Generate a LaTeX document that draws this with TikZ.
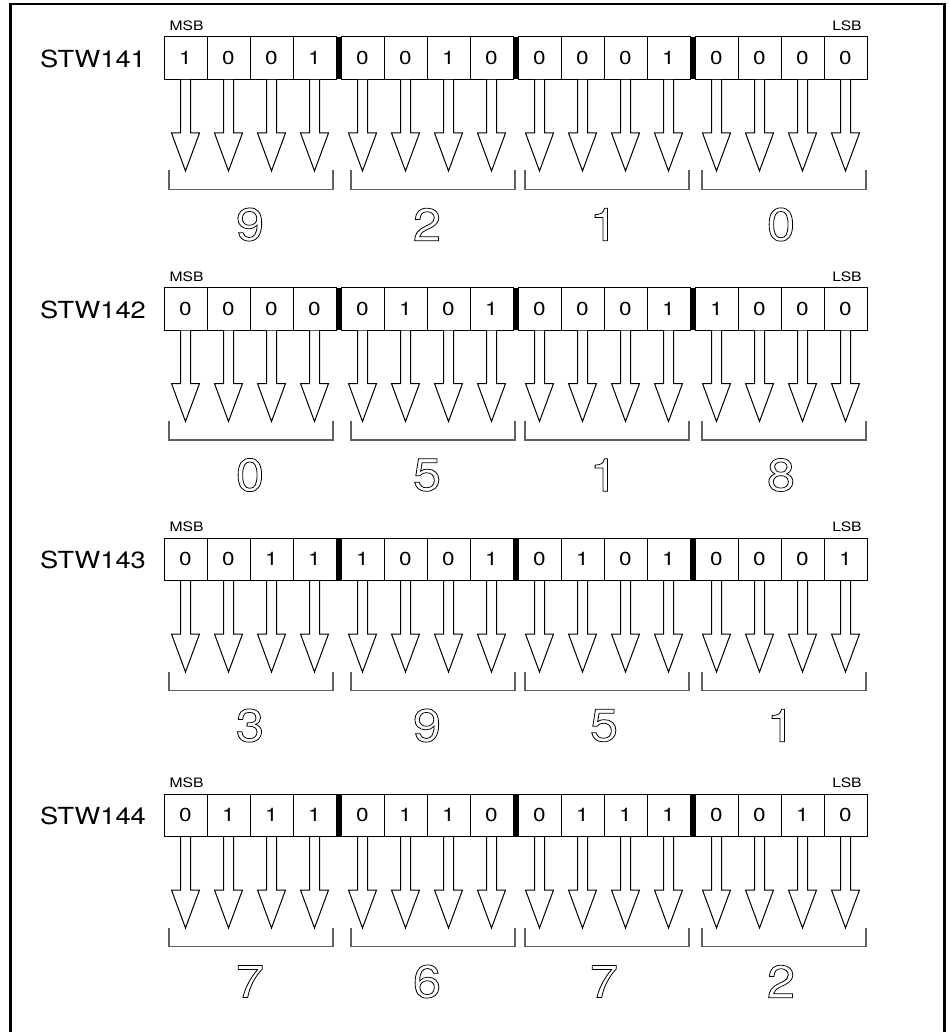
\documentclass[tikz,border=0pt]{standalone}
\usepackage{fontspec}
\setmainfont{TeX Gyre Heros}
\usepackage{graphicx}
\usetikzlibrary{calc}
\newcommand\hx[2]{\scalebox{#1}[1]{#2}}
\newcommand\outlinetext[1]{\special{pdf:literal 1 Tr 0.75 w}#1\special{pdf:literal 0 Tr 0.4 w}}
\tikzset{
  bitbox/.style={draw, line width=1pt, minimum width=43pt, minimum height=42.5pt, inner sep=0pt, font=\fontsize{18.8}{20}\selectfont},
  regname/.style={font=\fontsize{23.5}{25}\selectfont, inner sep=0pt},
  endlabel/.style={font=\fontsize{13}{14}\selectfont, inner sep=0pt},
  hollowarrow/.style={draw, fill=white, line width=1pt, line join=miter},
  groupbracket/.style={draw=black!62, line width=1.5pt},
  bigdigit/.style={font=\fontsize{46}{48}\selectfont, inner sep=0pt},
  separator/.style={fill=black},
  frameline/.style={line width=2.5pt}
}
\begin{document}
\begin{tikzpicture}[x=1pt,y=-1pt]
\useasboundingbox (0,0) rectangle (948,1032);
\draw[frameline] (10.3,1034) -- (10.3,4) -- (944.5,4) -- (944.5,1034);
\foreach \r/\tp/\name/\bits/\digs in {
  1/37/STW141/{1,0,0,1,0,0,1,0,0,0,0,1,0,0,0,0}/{9,2,1,0},
  2/287.5/STW142/{0,0,0,0,0,1,0,1,0,0,0,1,1,0,0,0}/{0,5,1,8},
  3/538/STW143/{0,0,1,1,1,0,0,1,0,1,0,1,0,0,0,1}/{3,9,5,1},
  4/794/STW144/{0,1,1,1,0,1,1,0,0,1,1,1,0,0,1,0}/{7,6,7,2}} {
  \node[regname] (lab\r) at (93,\tp+22) {\hx{1.16}{\name}};
  \node[endlabel] (msb\r) at (186.5,\tp-11) {\hx{1.2}{MSB}};
  \node[endlabel] (lsb\r) at (847,\tp-11) {\hx{1.2}{LSB}};
  \foreach \b [count=\k from 0] in \bits {
    \pgfmathtruncatemacro\g{int(\k/4)}
    \pgfmathsetmacro\cx{164+177*\g+43*(\k-4*\g)+21.5}
    \node[bitbox] (b\r-\k) at (\cx,\tp+21.25) {\hx{1.2}{\b}};
    \draw[hollowarrow] ($(b\r-\k.south)+(-5,0)$) -- ++(0,53) -- ++(-9,0) -- ++(14,38) -- ++(14,-38) -- ++(-9,0) -- ++(0,-53);
  }
  \foreach \gg in {1,2,3} {
    \fill[separator] (164+177*\gg-5,\tp) rectangle (164+177*\gg,\tp+42.5);
  }
  \foreach \dd [count=\gg from 0] in \digs {
    \pgfmathsetmacro\gc{164+177*\gg+86}
    \node[bigdigit] (d\r-\gg) at (\gc,\tp+42.5+145) {\hx{1.1}{\outlinetext{\dd}}};
  }
  \foreach \bl in {169,351,525,702} {
    \draw[groupbracket] (\bl,\tp+42.5+91) -- (\bl,\tp+42.5+110) -- (\bl+164,\tp+42.5+110) -- (\bl+164,\tp+42.5+91);
  }
}
\end{tikzpicture}
\end{document}
